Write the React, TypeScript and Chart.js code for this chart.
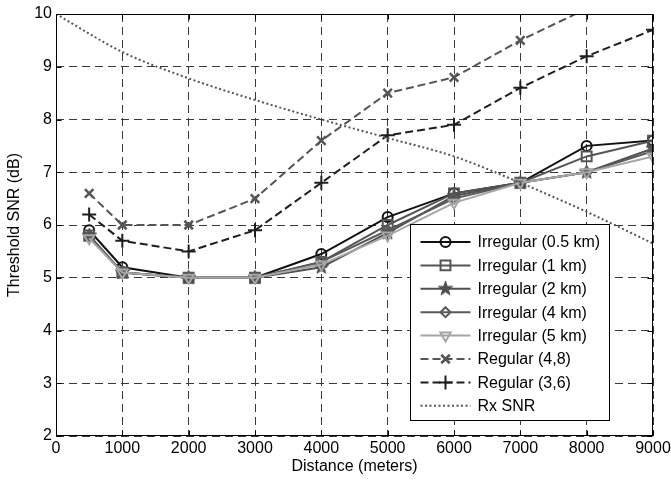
import React, { useEffect, useRef } from 'react';
import { Chart, registerables } from 'chart.js';

Chart.register(...registerables);

// ---------- data ----------
const distances = [500, 1000, 2000, 3000, 4000, 5000, 6000, 7000, 8000, 9000];
const irregular05 = [5.9, 5.2, 5.0, 5.0, 5.45, 6.15, 6.6, 6.8, 7.5, 7.6];
const irregular1 = [5.8, 5.1, 5.0, 5.0, 5.3, 6.0, 6.6, 6.8, 7.3, 7.6];
const irregular2 = [5.8, 5.1, 5.0, 5.0, 5.2, 5.85, 6.55, 6.8, 7.0, 7.45];
const irregular4 = [5.8, 5.1, 5.0, 5.0, 5.3, 5.9, 6.5, 6.8, 7.0, 7.4];
const irregular5 = [5.75, 5.1, 5.0, 5.0, 5.25, 5.8, 6.42, 6.8, 7.0, 7.3];
const regular48 = [6.6, 6.0, 6.0, 6.5, 7.6, 8.5, 8.8, 9.5, 10.1, 10.7];
const regular36 = [6.2, 5.7, 5.5, 5.9, 6.8, 7.7, 7.9, 8.6, 9.2, 9.7];
const rxDistances = [0, 1000, 2000, 3000, 4000, 5000, 6000, 7000, 8000, 9000];
const rxSnr = [10, 9.28, 8.78, 8.37, 8.0, 7.65, 7.3, 6.8, 6.25, 5.65];
const xTicks = [0, 1000, 2000, 3000, 4000, 5000, 6000, 7000, 8000, 9000];
const yTicks = [2, 3, 4, 5, 6, 7, 8, 9, 10];

const FONT = "'Liberation Sans', Arial, sans-serif";
const FS = 16;

const pts = (xs: number[], ys: number[]) => xs.map((x, i) => ({ x, y: ys[i] }));

function makePentagram(color: string, size: number): HTMLCanvasElement {
  const c = document.createElement('canvas');
  c.width = size;
  c.height = size;
  const g = c.getContext('2d')!;
  const cx = size / 2, cy = size / 2, R = size / 2, r = R * 0.4;
  g.beginPath();
  for (let k = 0; k < 10; k++) {
    const rad = (Math.PI / 5) * k - Math.PI / 2;
    const rr = k % 2 === 0 ? R : r;
    const px = cx + Math.cos(rad) * rr;
    const py = cy + Math.sin(rad) * rr;
    if (k === 0) g.moveTo(px, py); else g.lineTo(px, py);
  }
  g.closePath();
  g.fillStyle = color;
  g.fill();
  g.strokeStyle = color;
  g.lineWidth = 1;
  g.stroke();
  return c;
}

function drawMarker(ctx: CanvasRenderingContext2D, ds: any, x: number, y: number) {
  const style = ds.pointStyle;
  const r = ds.pointRadius || 0;
  if (!style || (r === 0 && !(style instanceof HTMLCanvasElement))) return;
  ctx.save();
  ctx.setLineDash([]);
  ctx.strokeStyle = ds.pointBorderColor;
  ctx.fillStyle = ds.pointBackgroundColor;
  ctx.lineWidth = ds.pointBorderWidth || 1;
  if (style instanceof HTMLCanvasElement) {
    ctx.drawImage(style, x - style.width / 2, y - style.height / 2);
    ctx.restore();
    return;
  }
  ctx.beginPath();
  let rad = ((ds.pointRotation || 0) * Math.PI) / 180;
  switch (style) {
    case 'circle':
      ctx.arc(x, y, r, 0, Math.PI * 2);
      ctx.closePath();
      break;
    case 'rect': {
      const s = Math.SQRT1_2 * r;
      ctx.rect(x - s, y - s, 2 * s, 2 * s);
      break;
    }
    case 'rectRot':
      ctx.moveTo(x, y - r);
      ctx.lineTo(x + r, y);
      ctx.lineTo(x, y + r);
      ctx.lineTo(x - r, y);
      ctx.closePath();
      break;
    case 'triangle':
      ctx.moveTo(x + Math.sin(rad) * r, y - Math.cos(rad) * r);
      rad += (2 * Math.PI) / 3;
      ctx.lineTo(x + Math.sin(rad) * r, y - Math.cos(rad) * r);
      rad += (2 * Math.PI) / 3;
      ctx.lineTo(x + Math.sin(rad) * r, y - Math.cos(rad) * r);
      ctx.closePath();
      break;
    case 'cross':
      ctx.moveTo(x, y - r);
      ctx.lineTo(x, y + r);
      ctx.moveTo(x - r, y);
      ctx.lineTo(x + r, y);
      break;
    case 'crossRot': {
      const o = Math.SQRT1_2 * r;
      ctx.moveTo(x - o, y - o);
      ctx.lineTo(x + o, y + o);
      ctx.moveTo(x + o, y - o);
      ctx.lineTo(x - o, y + o);
      break;
    }
  }
  if (style !== 'cross' && style !== 'crossRot') ctx.fill();
  ctx.stroke();
  ctx.restore();
}

const framePlugin = {
  id: 'matlabFrame',
  afterDatasetsDraw(chart: any) {
    const { ctx, chartArea: a, scales } = chart;
    ctx.save();
    // legend box
    const bx = 410.5, by = 224.5, bw = 199, bh = 196;
    ctx.fillStyle = '#ffffff';
    ctx.fillRect(bx, by, bw, bh);
    ctx.strokeStyle = '#000';
    ctx.lineWidth = 1;
    ctx.setLineDash([]);
    ctx.strokeRect(bx, by, bw, bh);
    chart.data.datasets.forEach((ds: any, i: number) => {
      const y = by + 17.5 + i * 23.4;
      ctx.save();
      ctx.beginPath();
      ctx.setLineDash(ds.borderDash || []);
      ctx.strokeStyle = ds.borderColor;
      ctx.lineWidth = ds.borderWidth;
      ctx.moveTo(bx + 10, y);
      ctx.lineTo(bx + 60, y);
      ctx.stroke();
      ctx.restore();
      drawMarker(ctx, ds, bx + 35, y);
      ctx.fillStyle = '#000';
      ctx.font = `${FS}px ${FONT}`;
      ctx.textBaseline = 'middle';
      ctx.textAlign = 'left';
      ctx.fillText(ds.label, bx + 67, y + 1);
    });
    // axes frame with inward ticks
    ctx.strokeStyle = '#000';
    ctx.lineWidth = 1;
    ctx.setLineDash([]);
    const L = Math.round(a.left) + 0.5, R = Math.round(a.right) - 0.5;
    const T = Math.round(a.top) + 0.5, B = Math.round(a.bottom) - 0.5;
    ctx.strokeRect(L, T, R - L, B - T);
    const tl = 5;
    ctx.beginPath();
    xTicks.forEach((v) => {
      const px = Math.round(scales.x.getPixelForValue(v)) + 0.5;
      ctx.moveTo(px, B);
      ctx.lineTo(px, B - tl);
      ctx.moveTo(px, T);
      ctx.lineTo(px, T + tl);
    });
    yTicks.forEach((v) => {
      const py = Math.round(scales.y.getPixelForValue(v)) + 0.5;
      ctx.moveTo(L, py);
      ctx.lineTo(L + tl, py);
      ctx.moveTo(R, py);
      ctx.lineTo(R - tl, py);
    });
    ctx.stroke();
    ctx.restore();
  },
};

export default function App() {
  const ref = useRef<HTMLCanvasElement>(null);
  useEffect(() => {
    document.body.style.margin = '0';
    const star = makePentagram('#4f4f4f', 15);
    const n = 8;
    const datasets: any[] = [
      {
        label: 'Irregular (0.5 km)', data: pts(distances, irregular05),
        borderColor: '#111111', borderWidth: 2, pointStyle: 'circle', pointRadius: 5,
        pointBorderColor: '#111111', pointBackgroundColor: 'rgba(0,0,0,0)', pointBorderWidth: 2,
      },
      {
        label: 'Irregular (1 km)', data: pts(distances, irregular1),
        borderColor: '#555555', borderWidth: 2, pointStyle: 'rect', pointRadius: 7,
        pointBorderColor: '#555555', pointBackgroundColor: 'rgba(0,0,0,0)', pointBorderWidth: 2,
      },
      {
        label: 'Irregular (2 km)', data: pts(distances, irregular2),
        borderColor: '#4f4f4f', borderWidth: 2, pointStyle: star, pointRadius: 7,
        pointBorderColor: '#4f4f4f', pointBackgroundColor: '#4f4f4f', pointBorderWidth: 1,
      },
      {
        label: 'Irregular (4 km)', data: pts(distances, irregular4),
        borderColor: '#5a5a5a', borderWidth: 2, pointStyle: 'rectRot', pointRadius: 5,
        pointBorderColor: '#5a5a5a', pointBackgroundColor: 'rgba(0,0,0,0)', pointBorderWidth: 2,
      },
      {
        label: 'Irregular (5 km)', data: pts(distances, irregular5),
        borderColor: '#a6a6a6', borderWidth: 2, pointStyle: 'triangle', pointRotation: 180, pointRadius: 6,
        pointBorderColor: '#a6a6a6', pointBackgroundColor: 'rgba(0,0,0,0)', pointBorderWidth: 2,
      },
      {
        label: 'Regular (4,8)', data: pts(distances, regular48),
        borderColor: '#555555', borderWidth: 2, borderDash: [8, 4], pointStyle: 'crossRot', pointRadius: 6,
        pointBorderColor: '#555555', pointBackgroundColor: '#555555', pointBorderWidth: 2.5,
      },
      {
        label: 'Regular (3,6)', data: pts(distances, regular36),
        borderColor: '#1e1e1e', borderWidth: 2, borderDash: [8, 4], pointStyle: 'cross', pointRadius: 7,
        pointBorderColor: '#1e1e1e', pointBackgroundColor: '#1e1e1e', pointBorderWidth: 2,
      },
      {
        label: 'Rx SNR', data: pts(rxDistances, rxSnr),
        borderColor: '#555555', borderWidth: 2, borderDash: [2, 2.5], pointStyle: false, pointRadius: 0,
        cubicInterpolationMode: 'monotone',
      },
    ].map((d, i) => ({ ...d, order: n - i, clip: 0, fill: false, pointHoverRadius: d.pointRadius }));

    const chart = new Chart(ref.current!, {
      type: 'line',
      data: { datasets },
      plugins: [framePlugin],
      options: {
        animation: false,
        responsive: false,
        devicePixelRatio: 1,
        events: [],
        layout: { padding: { top: 14, right: 18, left: 0, bottom: 0 } },
        plugins: { legend: { display: false }, tooltip: { enabled: false } },
        scales: {
          x: {
            type: 'linear', min: 0, max: 9000,
            afterBuildTicks: (s: any) => { s.ticks = xTicks.map((v) => ({ value: v })); },
            afterFit: (s: any) => { s.height = 46; s.paddingLeft = 0; s.paddingRight = 0; },
            ticks: {
              color: '#000', font: { family: FONT, size: FS }, padding: 3, maxRotation: 0, autoSkip: false,
              callback: (v: any) => String(v),
            },
            grid: { color: '#3a3a3a', lineWidth: 1, drawTicks: false },
            border: { display: false, dash: [8, 5] },
            title: { display: true, text: 'Distance (meters)', color: '#000', font: { family: FONT, size: FS }, padding: { top: 0, bottom: 6 } },
          },
          y: {
            type: 'linear', min: 2, max: 10,
            afterBuildTicks: (s: any) => { s.ticks = yTicks.map((v) => ({ value: v })); },
            afterFit: (s: any) => { s.width = 56; s.paddingTop = 0; s.paddingBottom = 0; },
            ticks: { color: '#000', font: { family: FONT, size: FS }, padding: 4, callback: (v: any) => String(v) },
            grid: { color: '#3a3a3a', lineWidth: 1, drawTicks: false },
            border: { display: false, dash: [8, 5] },
            title: { display: true, text: 'Threshold SNR (dB)', color: '#000', font: { family: FONT, size: FS }, padding: { top: 5, bottom: 0 } },
          },
        },
      } as any,
    });
    return () => chart.destroy();
  }, []);
  return (
    <div style={{ width: 671, height: 482 }}>
      <canvas ref={ref} width={671} height={482} style={{ display: 'block', width: 671, height: 482 }} />
    </div>
  );
}
